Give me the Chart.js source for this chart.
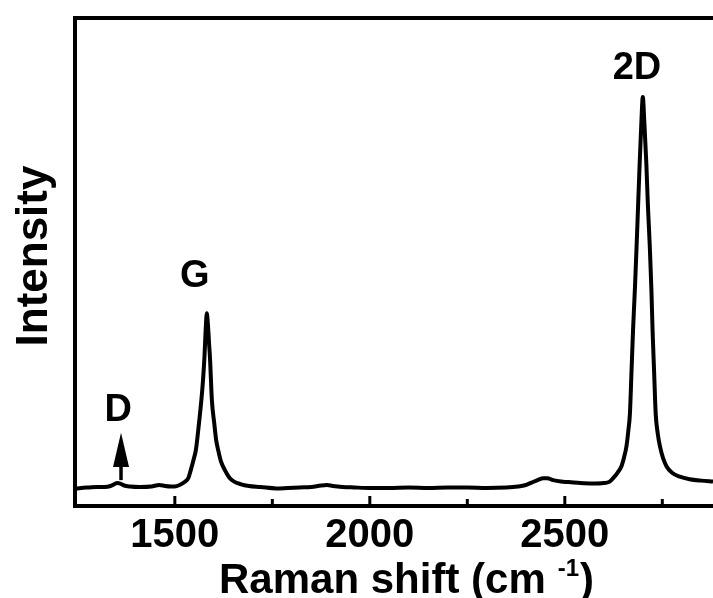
<!DOCTYPE html>
<html>
<head>
<meta charset="utf-8">
<title>Raman spectrum</title>
<script src="https://cdn.jsdelivr.net/npm/chart.js@4/dist/chart.umd.min.js"></script>
<style>
  html, body { margin: 0; padding: 0; background: #fff; overflow: hidden; }
  #wrap { width: 713px; height: 598px; }
</style>
</head>
<body>
<div id="wrap"><canvas id="ramanChart" width="713" height="598"></canvas></div>
<script>
// Raman shift (cm-1) and intensity (arb. units)
const shift = [
  1244, 1260, 1280, 1300, 1320, 1335, 1345, 1352, 1360, 1370, 1385, 1410, 1440, 1460, 1475,
  1490, 1500, 1512, 1525, 1535, 1541, 1548, 1554, 1562, 1568, 1572, 1576, 1579, 1582, 1585,
  1588, 1590, 1595, 1601, 1606, 1611, 1618, 1628, 1640, 1652, 1668, 1690, 1720, 1760, 1790,
  1820, 1850, 1875, 1890, 1905, 1930, 1960, 2000, 2050, 2100, 2150, 2200, 2250, 2300, 2350,
  2380, 2400, 2415, 2430, 2445, 2455, 2470, 2490, 2510, 2540, 2570, 2600, 2615, 2624, 2635,
  2645, 2652, 2658, 2663, 2667, 2671, 2675, 2680, 2684, 2688, 2692, 2696, 2700, 2704, 2709,
  2713, 2718, 2722, 2725, 2729, 2733, 2738, 2744, 2752, 2761, 2775, 2795, 2820, 2850, 2880
];
const intensity = [
  3.5, 3.7, 3.8, 3.9, 3.9, 4.1, 4.5, 4.7, 4.6, 4.2, 4.0, 3.9, 4.0, 4.3, 4.1,
  4.0, 4.0, 4.3, 4.9, 5.8, 7.4, 9.5, 11.5, 17, 21.7, 25.5, 30.6, 36, 39.5, 37,
  33, 30.6, 21.7, 17, 13.5, 11.5, 9.2, 7.4, 5.8, 5.0, 4.5, 4.1, 3.9, 3.6, 3.7,
  3.8, 3.9, 4.2, 4.3, 4.1, 3.9, 3.8, 3.7, 3.7, 3.8, 3.7, 3.8, 3.8, 3.7, 3.8,
  4.0, 4.3, 4.8, 5.3, 5.7, 5.7, 5.3, 5.0, 4.9, 4.7, 4.6, 4.7, 5.0, 5.7, 6.8,
  8.1, 10, 12.2, 15.5, 19, 27.5, 36.1, 45, 53.1, 61.7, 70.3, 78, 83.8, 78.5, 70.3,
  61.7, 53.1, 44.5, 36.1, 27.5, 19, 15, 12.2, 9.8, 8.1, 6.8, 6.0, 5.5, 5.2, 5.0
];
const xTickLabels = [1500, 2000, 2500];
const peakNames = ["D", "G", "2D"];

const FONT = "'Liberation Sans', Arial, sans-serif";

// label anchors (data coords) for the peak names, and the D arrow
const peakLabelAt = [[1355, 19.5], [1551, 47], [2685, 89.7]];
const arrowD = { x: 1362, tip: 15, head: 8, foot: 5.3 };

const decorations = {
  id: 'decorations',
  afterDraw(chart) {
    const { ctx, chartArea: area, scales: { x, y } } = chart;
    ctx.save();
    ctx.fillStyle = '#000';
    ctx.strokeStyle = '#000';

    // tick marks pointing into the plot
    ctx.lineWidth = 3;
    x.ticks.forEach(t => {
      const px = x.getPixelForValue(t.value);
      if (px - area.left < 8) return;
      const len = xTickLabels.includes(t.value) ? 10 : 7;
      ctx.beginPath();
      ctx.moveTo(px, area.bottom);
      ctx.lineTo(px, area.bottom - len);
      ctx.stroke();
    });

    // peak names
    ctx.font = `bold 38px ${FONT}`;
    ctx.textAlign = 'center';
    ctx.textBaseline = 'middle';
    peakNames.forEach((name, i) => {
      const [vx, vy] = peakLabelAt[i];
      ctx.fillText(name, x.getPixelForValue(vx), y.getPixelForValue(vy));
    });

    // arrow under "D"
    const ax = x.getPixelForValue(arrowD.x);
    const tipY = y.getPixelForValue(arrowD.tip);
    const headY = y.getPixelForValue(arrowD.head);
    const footY = y.getPixelForValue(arrowD.foot);
    ctx.beginPath();
    ctx.moveTo(ax, tipY);
    ctx.lineTo(ax + 8, headY);
    ctx.lineTo(ax - 8, headY);
    ctx.closePath();
    ctx.fill();
    ctx.lineWidth = 3.5;
    ctx.beginPath();
    ctx.moveTo(ax, headY - 2);
    ctx.lineTo(ax, footY);
    ctx.stroke();

    // y title
    ctx.save();
    ctx.font = `bold 44px ${FONT}`;
    ctx.textAlign = 'center';
    ctx.textBaseline = 'alphabetic';
    ctx.translate(area.left - 28, (area.top + area.bottom) / 2 - 6);
    ctx.rotate(-Math.PI / 2);
    ctx.fillText('Intensity', 0, 0);
    ctx.restore();

    // x title with superscript
    const base = chart.height - 5;
    let tx = area.left + 144;
    ctx.textAlign = 'left';
    ctx.textBaseline = 'alphabetic';
    ctx.font = `bold 42px ${FONT}`;
    const main = 'Raman shift (cm';
    ctx.fillText(main, tx, base);
    tx += ctx.measureText(main).width + 12;
    ctx.font = `bold 24px ${FONT}`;
    ctx.fillText('-1', tx, base - 17);
    tx += ctx.measureText('-1').width + 1;
    ctx.font = `bold 42px ${FONT}`;
    ctx.fillText(')', tx, base);

    ctx.restore();
  }
};

const axisLine = { display: true, color: '#000', width: 4 };
const noGrid = { display: true, drawOnChartArea: false, drawTicks: false };

new Chart(document.getElementById('ramanChart'), {
  type: 'line',
  data: {
    datasets: [{
      data: shift.map((s, i) => ({ x: s, y: intensity[i] })),
      borderColor: '#000',
      borderWidth: 4,
      pointRadius: 0,
      fill: false,
      cubicInterpolationMode: 'monotone'
    }]
  },
  options: {
    responsive: false,
    animation: false,
    devicePixelRatio: 1,
    layout: { padding: 0 },
    plugins: { legend: { display: false }, tooltip: { enabled: false } },
    scales: {
      x: {
        type: 'linear', position: 'bottom', min: 1244, max: 2880,
        afterFit(s) { s.height = 92; },
        border: axisLine,
        grid: noGrid,
        ticks: {
          stepSize: 250, includeBounds: false, autoSkip: false, maxRotation: 0,
          padding: 6, color: '#000',
          font: { family: FONT, size: 40, weight: 'bold' },
          callback: v => xTickLabels.includes(v) ? String(v) : ''
        }
      },
      xTop: {
        type: 'linear', position: 'top', min: 1244, max: 2880,
        afterFit(s) { s.height = 18; },
        border: axisLine,
        grid: noGrid,
        ticks: { display: false }
      },
      y: {
        min: 0, max: 100,
        afterFit(s) { s.width = 75; },
        border: axisLine,
        grid: noGrid,
        ticks: { display: false }
      }
    }
  },
  plugins: [decorations]
});
</script>
</body>
</html>
